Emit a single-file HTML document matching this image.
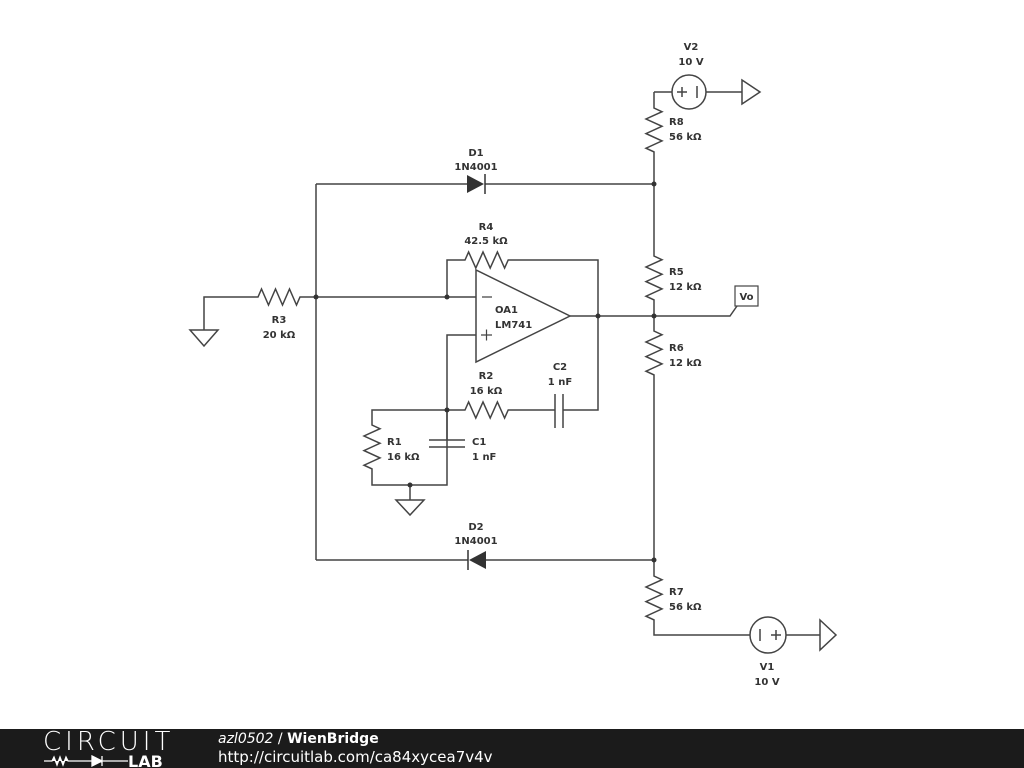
<!DOCTYPE html>
<html><head><meta charset="utf-8"><style>
body{margin:0;width:1024px;height:768px;background:#fff;overflow:hidden;font-family:"DejaVu Sans",sans-serif}
svg text{font-family:"DejaVu Sans","Liberation Sans",sans-serif;font-weight:bold;font-size:10px;fill:#333}
#ft{position:absolute;left:0;top:729px;width:1024px;height:39px;background:#1b1b1b}
</style></head><body>
<svg width="1024" height="729" style="position:absolute;left:0;top:0">
<g fill="none" stroke="#444" stroke-width="1.5">
<path d="M316,184 V560"/>
<path d="M316,184 H467 M485,184 H654"/>
<path d="M316,560 H468 M486,560 H654"/>
<path d="M654,92 V108 l8,3.7 l-16,7.3 l16,7.3 l-16,7.3 l16,7.3 l-16,7.3 l8,3.7 V256 l8,3.7 l-16,7.3 l16,7.3 l-16,7.3 l16,7.3 l-16,7.3 l8,3.7 V331 l8,3.7 l-16,7.3 l16,7.3 l-16,7.3 l16,7.3 l-16,7.3 l8,3.7 V576 l8,3.7 l-16,7.3 l16,7.3 l-16,7.3 l16,7.3 l-16,7.3 l8,3.7 V635 H750"/>
<path d="M654,92 H672 M706,92 H742"/>
<circle cx="689" cy="92" r="17"/>
<path d="M677,92 h10 M682,87 v10 M697,86 v12"/>
<path d="M742,80 L760,92 L742,104 Z"/>
<circle cx="768" cy="635" r="18"/>
<path d="M786,635 H820 M760,629 v12 M771,635 h10 M776,630 v10"/>
<path d="M820,620 L836,635 L820,650 Z"/>
<path d="M654,316 H730 L737,306"/>
<rect x="735" y="286" width="23" height="20" stroke-width="1.2"/>
<path d="M204,330 V297 H258 l3.5,-8 l7,16 l7,-16 l7,16 l7,-16 l7,16 l3.5,-8 H476"/>
<path d="M190,330 H218 L204,346 Z"/>
<path d="M476,270 L476,362 L570,316 Z"/>
<path d="M570,316 H654"/>
<path d="M482,297 h10 M481,335 h11 M486.5,329.5 v11" stroke-width="1.2"/>
<path d="M447,297 V260 H465 l3.6,-8 l7.2,16 l7.2,-16 l7.2,16 l7.2,-16 l7.2,16 l3.6,-8 H598 V410 H563"/>
<path d="M476,335 H447 V485 M447,410 H372 V425 l8,3.7 l-16,7.3 l16,7.3 l-16,7.3 l16,7.3 l-16,7.3 l8,3.7 V485 H447 V447"/>
<path d="M447,410 V440"/>
<path d="M429,440 H465 M429,447 H465"/>
<path d="M447,410 H465 l3.6,-8 l7.2,16 l7.2,-16 l7.2,16 l7.2,-16 l7.2,16 l3.6,-8 H555 M555,394 V428 M563,394 V428"/>
<path d="M410,485 V500 M396,500 H424 L410,515 Z"/>
</g>
<path d="M467,175 L484,184 L467,193 Z" fill="#333"/>
<path d="M485,174 V194" stroke="#333" stroke-width="1.5"/>
<path d="M486,551 L469,560 L486,569 Z" fill="#333"/>
<path d="M468,550 V570" stroke="#333" stroke-width="1.5"/>
<g fill="#333">
<circle cx="654" cy="184" r="2.5"/><circle cx="654" cy="316" r="2.5"/><circle cx="654" cy="560" r="2.5"/>
<circle cx="316" cy="297" r="2.5"/><circle cx="447" cy="297" r="2.5"/><circle cx="598" cy="316" r="2.5"/>
<circle cx="447" cy="410" r="2.5"/><circle cx="410" cy="485" r="2.5"/>
</g>
<text x="691" y="50" text-anchor="middle">V2</text><text x="691" y="65" text-anchor="middle">10 V</text>
<text x="669" y="125">R8</text><text x="669" y="140">56 kΩ</text>
<text x="476" y="156" text-anchor="middle">D1</text><text x="476" y="170" text-anchor="middle">1N4001</text>
<text x="486" y="230" text-anchor="middle">R4</text><text x="486" y="244" text-anchor="middle">42.5 kΩ</text>
<text x="669" y="275">R5</text><text x="669" y="290">12 kΩ</text>
<text x="669" y="351">R6</text><text x="669" y="366">12 kΩ</text>
<text x="746.5" y="300" text-anchor="middle">Vo</text>
<text x="279" y="323" text-anchor="middle">R3</text><text x="279" y="338" text-anchor="middle">20 kΩ</text>
<text x="495" y="313">OA1</text><text x="495" y="328">LM741</text>
<text x="486" y="379" text-anchor="middle">R2</text><text x="486" y="394" text-anchor="middle">16 kΩ</text>
<text x="560" y="370" text-anchor="middle">C2</text><text x="560" y="385" text-anchor="middle">1 nF</text>
<text x="387" y="445">R1</text><text x="387" y="460">16 kΩ</text>
<text x="472" y="445">C1</text><text x="472" y="460">1 nF</text>
<text x="476" y="530" text-anchor="middle">D2</text><text x="476" y="544" text-anchor="middle">1N4001</text>
<text x="669" y="595">R7</text><text x="669" y="610">56 kΩ</text>
<text x="767" y="670" text-anchor="middle">V1</text><text x="767" y="685" text-anchor="middle">10 V</text>
</svg>
<div id="ft">
<div style="position:absolute;left:43px;top:1px;color:#fff;font-family:'DejaVu Sans',sans-serif;font-size:26px;letter-spacing:4px;font-weight:200;line-height:24px">CIRCUIT</div>
<svg style="position:absolute;left:44px;top:24px" width="132" height="15">
<path d="M0,8 H8 l2,-4 l3,8 l3,-8 l3,8 l3,-8 l2,4 H48 M48,3 L58,8 L48,13Z M58,3 V13 M58,8 H84" stroke="#fff" stroke-width="1.3" fill="#fff"/>
<text x="84" y="14" style="font-family:'DejaVu Sans',sans-serif;font-weight:bold;font-size:16px;fill:#fff">LAB</text>
</svg>
<div style="position:absolute;left:218px;top:2px;color:#fff;font-family:'DejaVu Sans',sans-serif;font-size:14px;line-height:17px"><i>azl0502</i> / <b>WienBridge</b></div>
<div style="position:absolute;left:218px;top:20px;color:#fff;font-family:'DejaVu Sans',sans-serif;font-size:15px;line-height:17px">http://circuitlab.com/ca84xycea7v4v</div>
</div>
</body></html>
